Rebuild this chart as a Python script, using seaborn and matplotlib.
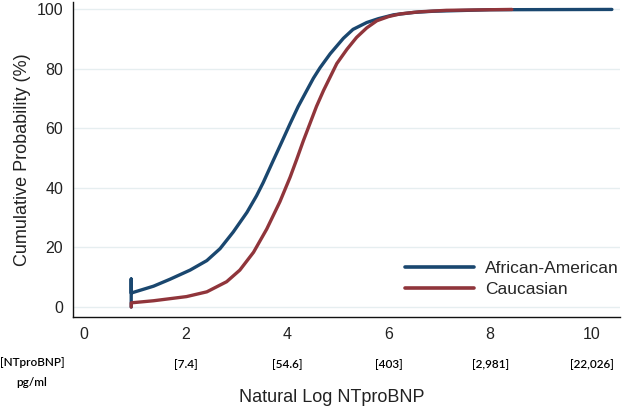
"""
Cumulative distribution of log NT-proBNP by race.
"""

import matplotlib

matplotlib.use("Agg")

import matplotlib.pyplot as plt
import matplotlib.transforms as mtransforms
import pandas as pd
import seaborn as sns

# values
aa_log_bnp = [0.93, 0.93, 0.93, 1.37, 1.69, 2.09, 2.42, 2.68, 2.94, 3.21, 3.40,
              3.53, 3.73, 3.90, 4.06, 4.22, 4.39, 4.52, 4.65, 4.85, 5.11, 5.30,
              5.57, 5.80, 6.10, 6.50, 6.88, 8.00, 10.40]
aa_cum_pct = [0.0, 9.4, 4.7, 7.0, 9.3, 12.4, 15.6, 19.6, 25.2, 31.8, 37.4,
              41.8, 49.3, 55.6, 61.6, 67.4, 72.8, 76.9, 80.4, 85.1, 90.3, 93.3,
              95.6, 96.9, 98.2, 99.0, 99.4, 99.9, 100.0]

cau_log_bnp = [0.93, 0.93, 1.37, 2.02, 2.42, 2.81, 3.07, 3.34, 3.60, 3.86, 4.06,
               4.19, 4.32, 4.45, 4.58, 4.72, 4.98, 5.18, 5.37, 5.57, 5.77, 6.00,
               6.23, 6.60, 7.14, 8.43]
cau_cum_pct = [0.0, 1.4, 2.1, 3.5, 5.1, 8.5, 12.4, 18.4, 26.2, 35.4, 43.6,
               49.6, 55.8, 61.6, 67.4, 72.8, 81.8, 86.6, 90.6, 93.8, 96.2, 97.6,
               98.5, 99.2, 99.7, 100.0]

x_ticks = [0, 2, 4, 6, 8, 10]
y_ticks = [0, 20, 40, 60, 80, 100]
conc_ticks = [2, 4, 6, 8, 10]
conc_labels = ["[7.4]", "[54.6]", "[403]", "[2,981]", "[22,026]"]

GROUP_COLORS = {"African-American": "#1a476f", "Caucasian": "#90353b"}

W, H = 622, 409


def px(x, y):
    """Pixel position (from top-left) to figure fraction."""
    return x / W, 1 - y / H


df = pd.concat(
    [
        pd.DataFrame({"log_bnp": aa_log_bnp, "cum_pct": aa_cum_pct,
                      "group": "African-American"}),
        pd.DataFrame({"log_bnp": cau_log_bnp, "cum_pct": cau_cum_pct,
                      "group": "Caucasian"}),
    ],
    ignore_index=True,
)

sns.set_style("white")
plt.rcParams["font.family"] = ["Liberation Sans", "DejaVu Sans"]

fig = plt.figure(figsize=(W / 100, H / 100), dpi=100)
ax = fig.add_axes([73 / W, (H - 317) / H, (620 - 73) / W, (317 - 2) / H])

sns.lineplot(
    data=df,
    x="log_bnp",
    y="cum_pct",
    hue="group",
    palette=GROUP_COLORS,
    sort=False,
    estimator=None,
    linewidth=2.4,
    ax=ax,
)

ax.set_xlim(-0.217, 10.56)
ax.set_ylim(-3.36, 102.5)
ax.set_xticks(x_ticks)
ax.set_yticks(y_ticks)
ax.tick_params(axis="both", direction="out", length=4, width=1, color="#222222",
               labelsize=11.5, labelcolor="#222222", pad=3)

ax.yaxis.grid(True, color="#e6eef0", linewidth=1)
ax.xaxis.grid(False)
ax.set_axisbelow(True)

for side in ["top", "right"]:
    ax.spines[side].set_visible(False)
for side in ["left", "bottom"]:
    ax.spines[side].set_color("#111111")
    ax.spines[side].set_linewidth(1)

ax.set_xlabel("")
ax.set_ylabel("Cumulative Probability (%)", fontsize=13, color="#222222",
              labelpad=4)

# concentration labels under the log ticks
small_font = dict(fontsize=8.5, family=["Lato", "DejaVu Sans"],
                  fontweight="semibold", color="#000000")
trans = mtransforms.blended_transform_factory(ax.transData, fig.transFigure)
for xv, lab in zip(conc_ticks, conc_labels):
    ax.text(xv, px(0, 365)[1], lab, transform=trans, ha="center", va="center",
            **small_font)

fig.text(*px(32, 363), "[NTproBNP]", ha="center", va="center", **small_font)
fig.text(*px(32, 382), "pg/ml", ha="center", va="center", **small_font)

fig.text(*px(332, 397), "Natural Log NTproBNP", ha="center", va="center",
         fontsize=13, color="#222222")

leg = ax.legend(
    loc="lower left",
    bbox_to_anchor=((405 - 73) / (620 - 73), (317 - 297) / 315),
    frameon=False,
    fontsize=12.5,
    handlelength=4.0,
    handletextpad=0.6,
    labelspacing=0.35,
    borderpad=0,
    borderaxespad=0,
)
for line in leg.get_lines():
    line.set_linewidth(2.6)

fig.savefig("out.png", dpi=100)
plt.close(fig)
